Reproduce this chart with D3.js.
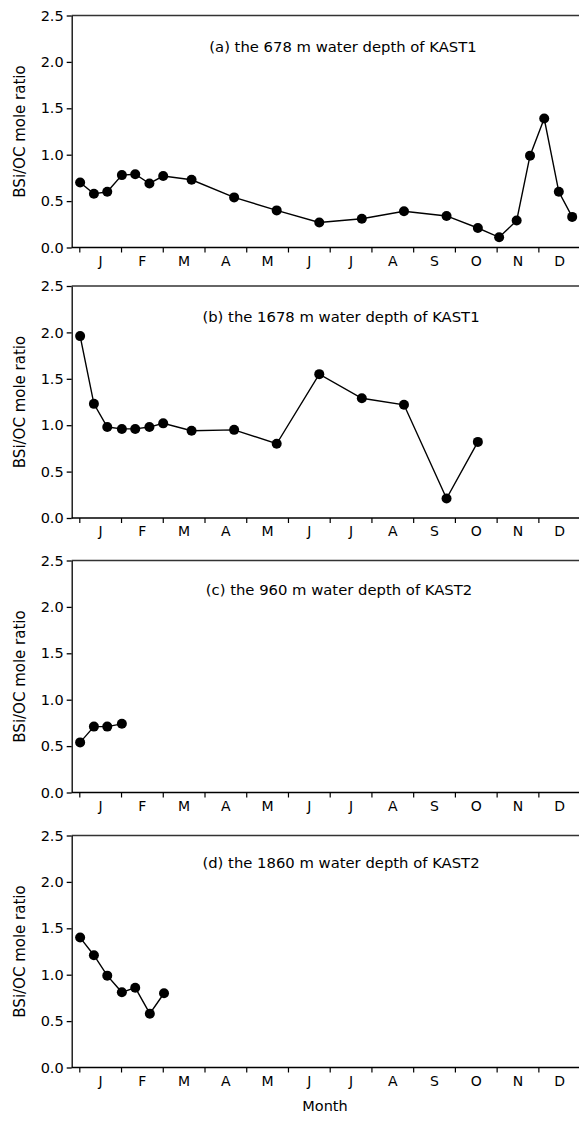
<!DOCTYPE html>
<html><head><meta charset="utf-8">
<script src="https://cdn.jsdelivr.net/npm/d3@7"></script>
<style>
html,body{margin:0;padding:0;background:#fff;}
svg{display:block;font-family:"DejaVu Sans",sans-serif;}
</style></head><body>
<svg id="chart" width="579" height="1121"></svg>
<script>
// ---- data ----
const months = ["J","F","M","A","M","J","J","A","S","O","N","D"];
const yTicks = [0, 0.5, 1.0, 1.5, 2.0, 2.5];
const titles = [
  "(a) the 678 m water depth of KAST1",
  "(b) the 1678 m water depth of KAST1",
  "(c) the 960 m water depth of KAST2",
  "(d) the 1860 m water depth of KAST2"
];
// x = position in months (0 = start of January)
const aMonth = [0.02,0.35,0.67,1.02,1.34,1.68,2.01,2.69,3.71,4.73,5.75,6.77,7.78,8.80,9.55,10.06,10.48,10.80,11.14,11.49,11.81];
const aValue = [0.70,0.58,0.60,0.78,0.79,0.69,0.77,0.73,0.54,0.40,0.27,0.31,0.39,0.34,0.21,0.11,0.29,0.99,1.39,0.60,0.33];
const bMonth = [0.02,0.35,0.67,1.02,1.34,1.68,2.01,2.69,3.71,4.73,5.75,6.77,7.78,8.80,9.55];
const bValue = [1.96,1.23,0.98,0.96,0.96,0.98,1.02,0.94,0.95,0.80,1.55,1.29,1.22,0.21,0.82];
const cMonth = [0.02,0.35,0.67,1.02];
const cValue = [0.54,0.71,0.71,0.74];
const dMonth = [0.02,0.35,0.67,1.02,1.34,1.69,2.03];
const dValue = [1.40,1.21,0.99,0.81,0.86,0.58,0.80];

const series = [[aMonth,aValue],[bMonth,bValue],[cMonth,cValue],[dMonth,dValue]];

// ---- layout ----
const W = 579;
const plotLeft = 71.7;
const panelTop = [15.5, 286, 560.5, 835.5];
const panelH = 232;
const titleX = [343, 341, 339, 341];
const titleDy = [36, 36, 34.5, 32];

const svg = d3.select("#chart");
const x = d3.scaleLinear().domain([0, 12]).range([79.3, 580.1]);

panelTop.forEach((top, i) => {
  const bottom = top + panelH;
  const y = d3.scaleLinear().domain([0, 2.5]).range([bottom, top]);
  const g = svg.append("g");

  // top border
  g.append("line").attr("x1", plotLeft).attr("x2", W).attr("y1", top).attr("y2", top)
    .attr("stroke", "#333").attr("stroke-width", 1.5);

  // y axis
  const ya = g.append("g").attr("transform", `translate(${plotLeft},0)`)
    .call(d3.axisLeft(y).tickValues(yTicks).tickFormat(d3.format(".1f"))
      .tickSize(5).tickSizeOuter(0).tickPadding(3));
  ya.selectAll("path,line").attr("stroke", "#000").attr("stroke-width", 1.3);
  ya.selectAll("text").attr("font-size", 14.5).attr("fill", "#000")
    .attr("font-family", "DejaVu Sans");

  // x axis: month boundary ticks
  const xb = g.append("g").attr("transform", `translate(0,${bottom})`)
    .call(d3.axisBottom(x).tickValues(d3.range(13)).tickFormat("").tickSize(5).tickSizeOuter(0));
  xb.select(".domain").remove();
  xb.selectAll("line").attr("stroke", "#000").attr("stroke-width", 1.2);

  // x axis: month labels at month centres
  const xl = g.append("g").attr("transform", `translate(0,${bottom})`)
    .call(d3.axisBottom(x).tickValues(months.map((m, k) => k + 0.5))
      .tickFormat((d, k) => months[k]).tickSize(0).tickPadding(8.5));
  xl.select(".domain").remove();
  xl.selectAll("text").attr("font-size", 14).attr("fill", "#000")
    .attr("font-family", "DejaVu Sans");

  // bottom axis line
  g.append("line").attr("x1", plotLeft).attr("x2", W).attr("y1", bottom).attr("y2", bottom)
    .attr("stroke", "#000").attr("stroke-width", 1.5);

  // title
  g.append("text").attr("x", titleX[i]).attr("y", top + titleDy[i])
    .attr("text-anchor", "middle").attr("font-size", 14.8).attr("fill", "#000")
    .text(titles[i]);

  // y label
  g.append("text").attr("transform", `translate(25,${(top + bottom) / 2}) rotate(-90)`)
    .attr("text-anchor", "middle").attr("font-size", 15).attr("fill", "#000")
    .text("BSi/OC mole ratio");

  // data
  const [ms, vs] = series[i];
  const pts = ms.map((m, k) => ({ m, v: vs[k] }));
  g.append("path").datum(pts)
    .attr("fill", "none").attr("stroke", "#000").attr("stroke-width", 1.4)
    .attr("d", d3.line().x(d => x(d.m)).y(d => y(d.v)));
  g.selectAll("circle.pt").data(pts).join("circle").attr("class", "pt")
    .attr("cx", d => x(d.m)).attr("cy", d => y(d.v)).attr("r", 5).attr("fill", "#000");
});

svg.append("text").attr("x", 325).attr("y", 1111).attr("text-anchor", "middle")
  .attr("font-size", 14.5).attr("fill", "#000").text("Month");
</script>
</body></html>
